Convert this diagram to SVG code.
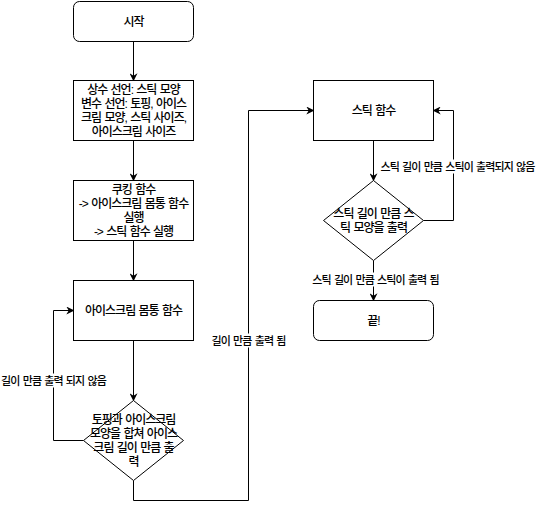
<svg xmlns="http://www.w3.org/2000/svg" width="536" height="509" viewBox="0 0 536 509">
<style>
.n{fill:#fff;stroke:#000;stroke-width:1}
.e{fill:none;stroke:#000;stroke-width:1}
text{font-family:"Liberation Sans","Noto Sans CJK KR",sans-serif;fill:#000;text-anchor:middle;dominant-baseline:central;font-weight:500}
.t{font-size:12px;letter-spacing:-1px;word-spacing:1px}
.l{font-size:11px;letter-spacing:-0.9px;word-spacing:1px}
.bg{fill:#fff;stroke:none}
</style>
<defs>
<marker id="a" viewBox="0 0 10 10" refX="9" refY="5" markerWidth="8" markerHeight="8" markerUnits="userSpaceOnUse" orient="auto">
<path d="M0,0 L10,5 L0,10 L3,5 z" fill="#000"/>
</marker>
</defs>
<rect width="536" height="509" fill="#fff"/>
<g transform="translate(0.5,0.5)">
<g id="connectors">
<path class="e" d="M133,41 V80" marker-end="url(#a)"/>
<path class="e" d="M133,140 V180" marker-end="url(#a)"/>
<path class="e" d="M133,240 V280" marker-end="url(#a)"/>
<path class="e" d="M133,340 V400" marker-end="url(#a)"/>
<path class="e" d="M83,440 H53 V310 H73" marker-end="url(#a)"/>
<path class="e" d="M133,480 V500 H248 V110 H313" marker-end="url(#a)"/>
<path class="e" d="M373,140 V180" marker-end="url(#a)"/>
<path class="e" d="M423,220 H453 V110 H433" marker-end="url(#a)"/>
<path class="e" d="M373,260 V300" marker-end="url(#a)"/>
<rect class="bg" x="0" y="373" width="107" height="14"/>
<text class="l" x="53" y="380">길이 만큼 출력 되지 않음</text>
<rect class="bg" x="210" y="333" width="77" height="14"/>
<text class="l" x="248" y="340">길이 만큼 출력 됨</text>
<rect class="bg" x="377" y="159" width="159" height="14"/>
<text class="l" x="457" y="166">스틱 길이 만큼 스틱이 출력되지 않음</text>
<rect class="bg" x="314" y="272" width="124" height="14"/>
<text class="l" x="375" y="279">스틱 길이 만큼 스틱이 출력 됨</text>
</g>
<g id="start">
<rect class="n" x="73" y="1" width="120" height="40" rx="6"/>
<text class="t" x="133" y="21">시작</text>
</g>
<g id="declare">
<rect class="n" x="73" y="80" width="120" height="60"/>
<text class="t" x="133" y="89">상수 선언: 스틱 모양</text>
<text class="t" x="133" y="103">변수 선언: 토핑, 아이스</text>
<text class="t" x="133" y="117">크림 모양, 스틱 사이즈,</text>
<text class="t" x="133" y="131">아이스크림 사이즈</text>
</g>
<g id="cooking">
<rect class="n" x="73" y="180" width="120" height="60"/>
<text class="t" x="133" y="189">쿠킹 함수</text>
<text class="t" x="133" y="203">-&gt; 아이스크림 몸통 함수</text>
<text class="t" x="133" y="217">실행</text>
<text class="t" x="133" y="231">-&gt; 스틱 함수 실행</text>
</g>
<g id="body">
<rect class="n" x="73" y="280" width="120" height="60"/>
<text class="t" x="133" y="310">아이스크림 몸통 함수</text>
</g>
<g id="body-check">
<path class="n" d="M133,400 L183,440 L133,480 L83,440 Z"/>
<text class="t" x="133" y="419">토핑과 아이스크림</text>
<text class="t" x="133" y="433">모양을 합쳐 아이스</text>
<text class="t" x="133" y="447">크림 길이 만큼 출</text>
<text class="t" x="133" y="461">력</text>
</g>
<g id="stick">
<rect class="n" x="313" y="80" width="120" height="60"/>
<text class="t" x="373" y="110">스틱 함수</text>
</g>
<g id="stick-check">
<path class="n" d="M373,180 L423,220 L373,260 L323,220 Z"/>
<text class="t" x="373" y="213">스틱 길이 만큼  스</text>
<text class="t" x="373" y="227">틱 모양을 출력</text>
</g>
<g id="end">
<rect class="n" x="313" y="300" width="120" height="40" rx="6"/>
<text class="t" x="373" y="320">끝!</text>
</g>
</g>
</svg>
